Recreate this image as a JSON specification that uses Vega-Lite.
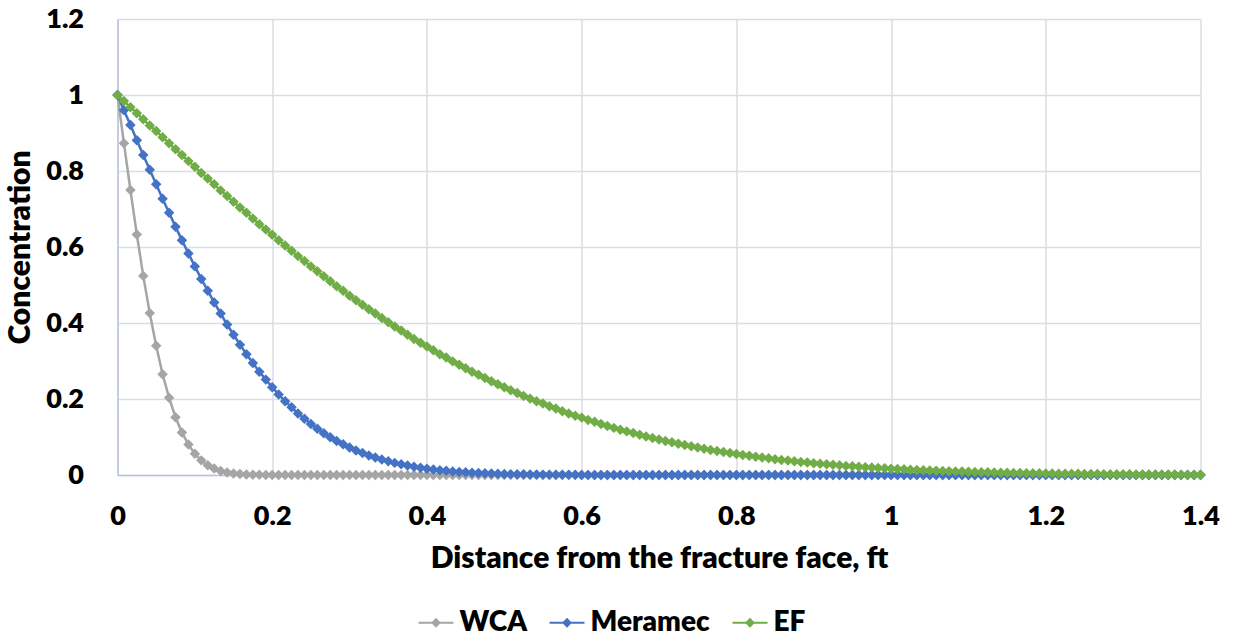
{
"$schema":"https://vega.github.io/schema/vega-lite/v6.json",
"width":1083,"height":456,
"autosize":{"type":"none"},
"padding":{"left":117.5,"top":19,"right":32.5,"bottom":165},
"background":"white",
"config":{"font":"Lato","view":{"stroke":null},
"axis":{"domainColor":"#b8c5db","domainWidth":1.5,"gridColor":"#d9dde5","gridWidth":1.5,"ticks":false,"labelFont":"Lato","labelFontWeight":800,"labelFontSize":27,"labelColor":"#000000","titleFont":"Lato","titleFontWeight":800,"titleFontSize":30,"titleColor":"#000000"}},
"data":{"values":[
{"x":0,"WCA":1,"Meramec":1,"EF":1},
{"x":0.0083,"WCA":0.873,"Meramec":0.96,"EF":0.984},
{"x":0.0167,"WCA":0.75,"Meramec":0.921,"EF":0.968},
{"x":0.025,"WCA":0.633,"Meramec":0.881,"EF":0.952},
{"x":0.0333,"WCA":0.524,"Meramec":0.842,"EF":0.936},
{"x":0.0417,"WCA":0.426,"Meramec":0.803,"EF":0.92},
{"x":0.05,"WCA":0.34,"Meramec":0.765,"EF":0.905},
{"x":0.0583,"WCA":0.265,"Meramec":0.727,"EF":0.889},
{"x":0.0667,"WCA":0.203,"Meramec":0.69,"EF":0.873},
{"x":0.075,"WCA":0.152,"Meramec":0.653,"EF":0.857},
{"x":0.0833,"WCA":0.112,"Meramec":0.618,"EF":0.842},
{"x":0.0917,"WCA":0.08,"Meramec":0.583,"EF":0.826},
{"x":0.1,"WCA":0.056,"Meramec":0.549,"EF":0.811},
{"x":0.1083,"WCA":0.0385,"Meramec":0.516,"EF":0.795},
{"x":0.1167,"WCA":0.0259,"Meramec":0.485,"EF":0.78},
{"x":0.125,"WCA":0.0169,"Meramec":0.454,"EF":0.765},
{"x":0.1333,"WCA":0.0108,"Meramec":0.425,"EF":0.749},
{"x":0.1417,"WCA":0.0068,"Meramec":0.396,"EF":0.734},
{"x":0.15,"WCA":0.0042,"Meramec":0.369,"EF":0.719},
{"x":0.1583,"WCA":0.0025,"Meramec":0.343,"EF":0.704},
{"x":0.1667,"WCA":0.0015,"Meramec":0.318,"EF":0.69},
{"x":0.175,"WCA":0.0008,"Meramec":0.2945,"EF":0.675},
{"x":0.1833,"WCA":0.0005,"Meramec":0.272,"EF":0.66},
{"x":0.1917,"WCA":0.0003,"Meramec":0.251,"EF":0.646},
{"x":0.2,"WCA":0.0001,"Meramec":0.231,"EF":0.632},
{"x":0.2083,"WCA":0,"Meramec":0.212,"EF":0.618},
{"x":0.2167,"WCA":0,"Meramec":0.194,"EF":0.604},
{"x":0.225,"WCA":0,"Meramec":0.178,"EF":0.59},
{"x":0.2333,"WCA":0,"Meramec":0.162,"EF":0.576},
{"x":0.2417,"WCA":0,"Meramec":0.148,"EF":0.563},
{"x":0.25,"WCA":0,"Meramec":0.134,"EF":0.549},
{"x":0.2583,"WCA":0,"Meramec":0.122,"EF":0.536},
{"x":0.2667,"WCA":0,"Meramec":0.11,"EF":0.523},
{"x":0.275,"WCA":0,"Meramec":0.0996,"EF":0.51},
{"x":0.2833,"WCA":0,"Meramec":0.0896,"EF":0.497},
{"x":0.2917,"WCA":0,"Meramec":0.0807,"EF":0.485},
{"x":0.3,"WCA":0,"Meramec":0.0724,"EF":0.472},
{"x":0.3083,"WCA":0,"Meramec":0.0647,"EF":0.46},
{"x":0.3167,"WCA":0,"Meramec":0.0578,"EF":0.448},
{"x":0.325,"WCA":0,"Meramec":0.0516,"EF":0.436},
{"x":0.3333,"WCA":0,"Meramec":0.0459,"EF":0.425},
{"x":0.3417,"WCA":0,"Meramec":0.0406,"EF":0.413},
{"x":0.35,"WCA":0,"Meramec":0.0361,"EF":0.402},
{"x":0.3583,"WCA":0,"Meramec":0.0319,"EF":0.391},
{"x":0.3667,"WCA":0,"Meramec":0.0281,"EF":0.38},
{"x":0.375,"WCA":0,"Meramec":0.0247,"EF":0.369},
{"x":0.3833,"WCA":0,"Meramec":0.0218,"EF":0.358},
{"x":0.3917,"WCA":0,"Meramec":0.019,"EF":0.348},
{"x":0.4,"WCA":0,"Meramec":0.0165,"EF":0.338},
{"x":0.4083,"WCA":0,"Meramec":0.0145,"EF":0.328},
{"x":0.4167,"WCA":0,"Meramec":0.0126,"EF":0.318},
{"x":0.425,"WCA":0,"Meramec":0.0109,"EF":0.309},
{"x":0.4333,"WCA":0,"Meramec":0.0095,"EF":0.299},
{"x":0.4417,"WCA":0,"Meramec":0.0082,"EF":0.29},
{"x":0.45,"WCA":0,"Meramec":0.007,"EF":0.281},
{"x":0.4583,"WCA":0,"Meramec":0.006,"EF":0.272},
{"x":0.4667,"WCA":0,"Meramec":0.0052,"EF":0.264},
{"x":0.475,"WCA":0,"Meramec":0.0045,"EF":0.255},
{"x":0.4833,"WCA":0,"Meramec":0.0038,"EF":0.247},
{"x":0.4917,"WCA":0,"Meramec":0.0033,"EF":0.239},
{"x":0.5,"WCA":0,"Meramec":0.0028,"EF":0.231},
{"x":0.5083,"WCA":0,"Meramec":0.0023,"EF":0.223},
{"x":0.5167,"WCA":0,"Meramec":0.002,"EF":0.216},
{"x":0.525,"WCA":0,"Meramec":0.0017,"EF":0.208},
{"x":0.5333,"WCA":0,"Meramec":0.0014,"EF":0.201},
{"x":0.5417,"WCA":0,"Meramec":0.0012,"EF":0.194},
{"x":0.55,"WCA":0,"Meramec":0.001,"EF":0.188},
{"x":0.5583,"WCA":0,"Meramec":0.0008,"EF":0.181},
{"x":0.5667,"WCA":0,"Meramec":0.0007,"EF":0.175},
{"x":0.575,"WCA":0,"Meramec":0.0006,"EF":0.168},
{"x":0.5833,"WCA":0,"Meramec":0.0005,"EF":0.162},
{"x":0.5917,"WCA":0,"Meramec":0.0004,"EF":0.156},
{"x":0.6,"WCA":0,"Meramec":0.0003,"EF":0.151},
{"x":0.6083,"WCA":0,"Meramec":0.0003,"EF":0.145},
{"x":0.6167,"WCA":0,"Meramec":0.0002,"EF":0.14},
{"x":0.625,"WCA":0,"Meramec":0.0002,"EF":0.134},
{"x":0.6333,"WCA":0,"Meramec":0.0002,"EF":0.129},
{"x":0.6417,"WCA":0,"Meramec":0.0001,"EF":0.124},
{"x":0.65,"WCA":0,"Meramec":0.0001,"EF":0.119},
{"x":0.6583,"WCA":0,"Meramec":0.0001,"EF":0.1148},
{"x":0.6667,"WCA":0,"Meramec":0.0001,"EF":0.1103},
{"x":0.675,"WCA":0,"Meramec":0.0001,"EF":0.1058},
{"x":0.6833,"WCA":0,"Meramec":0.0001,"EF":0.1016},
{"x":0.6917,"WCA":0,"Meramec":0.0001,"EF":0.0976},
{"x":0.7,"WCA":0,"Meramec":0.0001,"EF":0.0936},
{"x":0.7083,"WCA":0,"Meramec":0,"EF":0.0896},
{"x":0.7167,"WCA":0,"Meramec":0,"EF":0.086},
{"x":0.725,"WCA":0,"Meramec":0,"EF":0.0824},
{"x":0.7333,"WCA":0,"Meramec":0,"EF":0.0789},
{"x":0.7417,"WCA":0,"Meramec":0,"EF":0.0755},
{"x":0.75,"WCA":0,"Meramec":0,"EF":0.0724},
{"x":0.7583,"WCA":0,"Meramec":0,"EF":0.0693},
{"x":0.7667,"WCA":0,"Meramec":0,"EF":0.0661},
{"x":0.775,"WCA":0,"Meramec":0,"EF":0.0634},
{"x":0.7833,"WCA":0,"Meramec":0,"EF":0.0606},
{"x":0.7917,"WCA":0,"Meramec":0,"EF":0.0578},
{"x":0.8,"WCA":0,"Meramec":0,"EF":0.0552},
{"x":0.8083,"WCA":0,"Meramec":0,"EF":0.0528},
{"x":0.8167,"WCA":0,"Meramec":0,"EF":0.0504},
{"x":0.825,"WCA":0,"Meramec":0,"EF":0.048},
{"x":0.8333,"WCA":0,"Meramec":0,"EF":0.0459},
{"x":0.8417,"WCA":0,"Meramec":0,"EF":0.0438},
{"x":0.85,"WCA":0,"Meramec":0,"EF":0.0417},
{"x":0.8583,"WCA":0,"Meramec":0,"EF":0.0397},
{"x":0.8667,"WCA":0,"Meramec":0,"EF":0.0379},
{"x":0.875,"WCA":0,"Meramec":0,"EF":0.0361},
{"x":0.8833,"WCA":0,"Meramec":0,"EF":0.0343},
{"x":0.8917,"WCA":0,"Meramec":0,"EF":0.0327},
{"x":0.9,"WCA":0,"Meramec":0,"EF":0.0311},
{"x":0.9083,"WCA":0,"Meramec":0,"EF":0.0295},
{"x":0.9167,"WCA":0,"Meramec":0,"EF":0.028},
{"x":0.925,"WCA":0,"Meramec":0,"EF":0.0267},
{"x":0.9333,"WCA":0,"Meramec":0,"EF":0.0254},
{"x":0.9417,"WCA":0,"Meramec":0,"EF":0.024},
{"x":0.95,"WCA":0,"Meramec":0,"EF":0.0228},
{"x":0.9583,"WCA":0,"Meramec":0,"EF":0.0217},
{"x":0.9667,"WCA":0,"Meramec":0,"EF":0.0206},
{"x":0.975,"WCA":0,"Meramec":0,"EF":0.0195},
{"x":0.9833,"WCA":0,"Meramec":0,"EF":0.0185},
{"x":0.9917,"WCA":0,"Meramec":0,"EF":0.0175},
{"x":1,"WCA":0,"Meramec":0,"EF":0.0166},
{"x":1.0083,"WCA":0,"Meramec":0,"EF":0.0157},
{"x":1.0167,"WCA":0,"Meramec":0,"EF":0.0149},
{"x":1.025,"WCA":0,"Meramec":0,"EF":0.0141},
{"x":1.0333,"WCA":0,"Meramec":0,"EF":0.0133},
{"x":1.0417,"WCA":0,"Meramec":0,"EF":0.0126},
{"x":1.05,"WCA":0,"Meramec":0,"EF":0.0119},
{"x":1.0583,"WCA":0,"Meramec":0,"EF":0.0112},
{"x":1.0667,"WCA":0,"Meramec":0,"EF":0.0106},
{"x":1.075,"WCA":0,"Meramec":0,"EF":0.01},
{"x":1.0833,"WCA":0,"Meramec":0,"EF":0.0095},
{"x":1.0917,"WCA":0,"Meramec":0,"EF":0.0089},
{"x":1.1,"WCA":0,"Meramec":0,"EF":0.0084},
{"x":1.1083,"WCA":0,"Meramec":0,"EF":0.0079},
{"x":1.1167,"WCA":0,"Meramec":0,"EF":0.0075},
{"x":1.125,"WCA":0,"Meramec":0,"EF":0.007},
{"x":1.1333,"WCA":0,"Meramec":0,"EF":0.0066},
{"x":1.1417,"WCA":0,"Meramec":0,"EF":0.0062},
{"x":1.15,"WCA":0,"Meramec":0,"EF":0.0058},
{"x":1.1583,"WCA":0,"Meramec":0,"EF":0.0055},
{"x":1.1667,"WCA":0,"Meramec":0,"EF":0.0052},
{"x":1.175,"WCA":0,"Meramec":0,"EF":0.0049},
{"x":1.1833,"WCA":0,"Meramec":0,"EF":0.0046},
{"x":1.1917,"WCA":0,"Meramec":0,"EF":0.0043},
{"x":1.2,"WCA":0,"Meramec":0,"EF":0.004},
{"x":1.2083,"WCA":0,"Meramec":0,"EF":0.0038},
{"x":1.2167,"WCA":0,"Meramec":0,"EF":0.0036},
{"x":1.225,"WCA":0,"Meramec":0,"EF":0.0033},
{"x":1.2333,"WCA":0,"Meramec":0,"EF":0.0031},
{"x":1.2417,"WCA":0,"Meramec":0,"EF":0.003},
{"x":1.25,"WCA":0,"Meramec":0,"EF":0.0028},
{"x":1.2583,"WCA":0,"Meramec":0,"EF":0.0026},
{"x":1.2667,"WCA":0,"Meramec":0,"EF":0.0024},
{"x":1.275,"WCA":0,"Meramec":0,"EF":0.0023},
{"x":1.2833,"WCA":0,"Meramec":0,"EF":0.0021},
{"x":1.2917,"WCA":0,"Meramec":0,"EF":0.002},
{"x":1.3,"WCA":0,"Meramec":0,"EF":0.0018},
{"x":1.3083,"WCA":0,"Meramec":0,"EF":0.0017},
{"x":1.3167,"WCA":0,"Meramec":0,"EF":0.0016},
{"x":1.325,"WCA":0,"Meramec":0,"EF":0.0015},
{"x":1.3333,"WCA":0,"Meramec":0,"EF":0.0014},
{"x":1.3417,"WCA":0,"Meramec":0,"EF":0.0013},
{"x":1.35,"WCA":0,"Meramec":0,"EF":0.0012},
{"x":1.3583,"WCA":0,"Meramec":0,"EF":0.0011},
{"x":1.3667,"WCA":0,"Meramec":0,"EF":0.0011},
{"x":1.375,"WCA":0,"Meramec":0,"EF":0.001},
{"x":1.3833,"WCA":0,"Meramec":0,"EF":0.0009},
{"x":1.3917,"WCA":0,"Meramec":0,"EF":0.0009},
{"x":1.4,"WCA":0,"Meramec":0,"EF":0.0008}
]},
"transform":[{"fold":["WCA","Meramec","EF"],"as":["series","c"]}],
"encoding":{
"x":{"field":"x","type":"quantitative","scale":{"domain":[0,1.4],"nice":false,"zero":false},
"axis":{"values":[0,0.2,0.4,0.6,0.8,1,1.2,1.4],"format":"~g","title":"Distance from the fracture face, ft","labelPadding":28,"titlePadding":14,"labelFlush":false}},
"y":{"field":"c","type":"quantitative","scale":{"domain":[0,1.2],"nice":false},
"axis":{"values":[0,0.2,0.4,0.6,0.8,1,1.2],"format":"~g","title":"Concentration","labelPadding":34,"titlePadding":10}},
"color":{"field":"series","type":"nominal","scale":{"domain":["WCA","Meramec","EF"],"range":["#A5A5A5","#4472C4","#70AD47"]},
"legend":{"orient":"none","legendX":300,"legendY":585,"direction":"horizontal","title":null,
"symbolType":"M-1,0H1M-0.2,0L0,-0.2L0.2,0L0,0.2Z","symbolSize":1225,"symbolStrokeWidth":2,
"labelFont":"Lato","labelFontSize":28,"labelFontWeight":800,"labelColor":"#000000","labelOffset":5,"columnPadding":18,
"encode":{"symbols":{"update":{"fill":{"scale":"color","field":"value"},"stroke":{"scale":"color","field":"value"},"opacity":{"value":1}}}}}}
},
"layer":[
{"mark":{"type":"line","strokeWidth":2.5}},
{"mark":{"type":"point","shape":"diamond","filled":true,"size":110,"opacity":1},
"encoding":{"order":{"field":"series","sort":"descending"}}}
]
}
